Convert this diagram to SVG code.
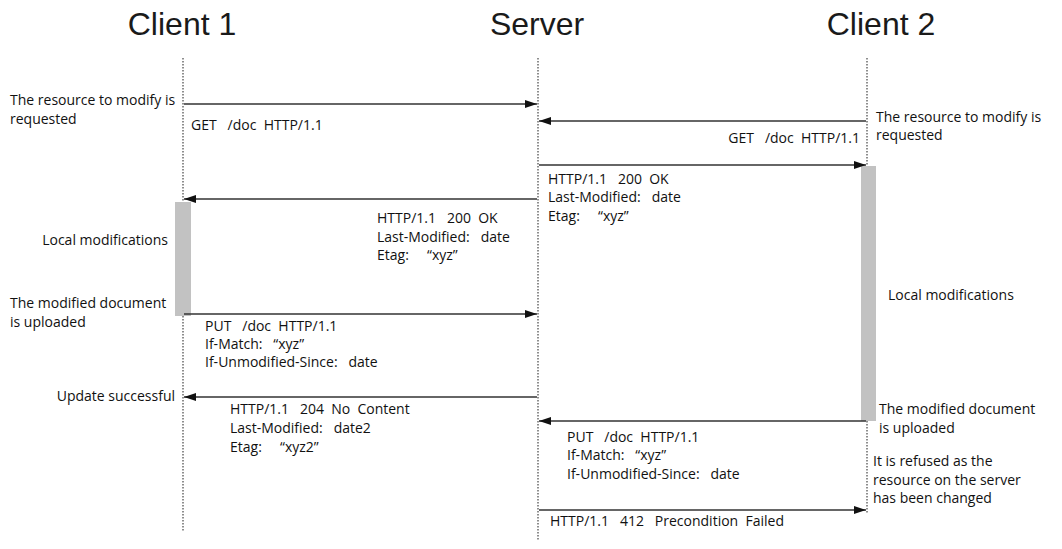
<svg xmlns="http://www.w3.org/2000/svg" width="1062" height="549" viewBox="0 0 1062 549">
<style>
.title{font-family:"Liberation Sans",Arial,sans-serif;font-size:32px;fill:#1a1a1a;text-anchor:middle}
.lbl{font-family:"Open Sans","Noto Sans",sans-serif;font-size:14px;fill:#111;white-space:pre}
.end{text-anchor:end}
.life{stroke:#444;stroke-width:1.2;stroke-dasharray:1.5 1.5;fill:none}
.msg{stroke:#333;stroke-width:1.4;fill:none;marker-end:url(#ah)}
.bar{fill:#c2c2c2}
</style>
<defs>
<marker id="ah" viewBox="0 0 12 8" refX="12" refY="4" markerWidth="12" markerHeight="8" markerUnits="userSpaceOnUse" orient="auto">
<path d="M0,0 L12,4 L0,8 Z" fill="#111"/>
</marker>
</defs>
<rect width="1062" height="549" fill="#fff"/>

<g id="client1">
<text class="title" x="182" y="35">Client 1</text>
<line class="life" x1="183" y1="58" x2="183" y2="531"/>
<rect class="bar" x="175" y="202" width="16" height="114"/>
</g>
<g id="server">
<text class="title" x="537" y="35">Server</text>
<line class="life" x1="538" y1="58" x2="538" y2="541"/>
</g>
<g id="client2">
<text class="title" x="881" y="35">Client 2</text>
<line class="life" x1="867" y1="58" x2="867" y2="514"/>
<rect class="bar" x="861" y="166" width="15" height="255"/>
</g>

<g id="connectors">
<line class="msg" x1="184" y1="104" x2="537" y2="104"/>
<line class="msg" x1="866" y1="121" x2="539" y2="121"/>
<line class="msg" x1="539" y1="165" x2="866" y2="165"/>
<line class="msg" x1="537" y1="199" x2="184" y2="199"/>
<line class="msg" x1="184" y1="314" x2="537" y2="314"/>
<line class="msg" x1="537" y1="397" x2="184" y2="397"/>
<line class="msg" x1="866" y1="421" x2="539" y2="421"/>
<line class="msg" x1="539" y1="510" x2="866" y2="510"/>
</g>

<g id="labels">
<text class="lbl" x="10" y="105">The resource to modify is</text>
<text class="lbl" x="10" y="124">requested</text>
<text class="lbl" x="191" y="130">GET   /doc  HTTP/1.1</text>

<text class="lbl" x="876" y="122">The resource to modify is</text>
<text class="lbl" x="876" y="140">requested</text>
<text class="lbl end" x="860" y="143">GET   /doc  HTTP/1.1</text>

<text class="lbl" x="548" y="184">HTTP/1.1   200  OK</text>
<text class="lbl" x="548" y="202">Last-Modified:   date</text>
<text class="lbl" x="548" y="221">Etag:     “xyz”</text>

<text class="lbl" x="377" y="223">HTTP/1.1   200  OK</text>
<text class="lbl" x="377" y="242">Last-Modified:   date</text>
<text class="lbl" x="377" y="260">Etag:     “xyz”</text>

<text class="lbl end" x="168" y="245">Local modifications</text>

<text class="lbl" x="10" y="308">The modified document</text>
<text class="lbl" x="10" y="327">is uploaded</text>
<text class="lbl" x="205" y="331">PUT   /doc  HTTP/1.1</text>
<text class="lbl" x="205" y="349">If-Match:   “xyz”</text>
<text class="lbl" x="205" y="367">If-Unmodified-Since:   date</text>

<text class="lbl end" x="175" y="401">Update successful</text>
<text class="lbl" x="230" y="414">HTTP/1.1   204  No  Content</text>
<text class="lbl" x="230" y="433">Last-Modified:   date2</text>
<text class="lbl" x="230" y="452">Etag:     “xyz2”</text>

<text class="lbl" x="888" y="300">Local modifications</text>

<text class="lbl" x="879" y="414">The modified document</text>
<text class="lbl" x="879" y="433">is uploaded</text>
<text class="lbl" x="567" y="442">PUT   /doc  HTTP/1.1</text>
<text class="lbl" x="567" y="460">If-Match:   “xyz”</text>
<text class="lbl" x="567" y="479">If-Unmodified-Since:   date</text>

<text class="lbl" x="873" y="466">It is refused as the</text>
<text class="lbl" x="873" y="485">resource on the server</text>
<text class="lbl" x="873" y="503">has been changed</text>

<text class="lbl" x="550" y="526">HTTP/1.1   412   Precondition  Failed</text>
</g>
</svg>
